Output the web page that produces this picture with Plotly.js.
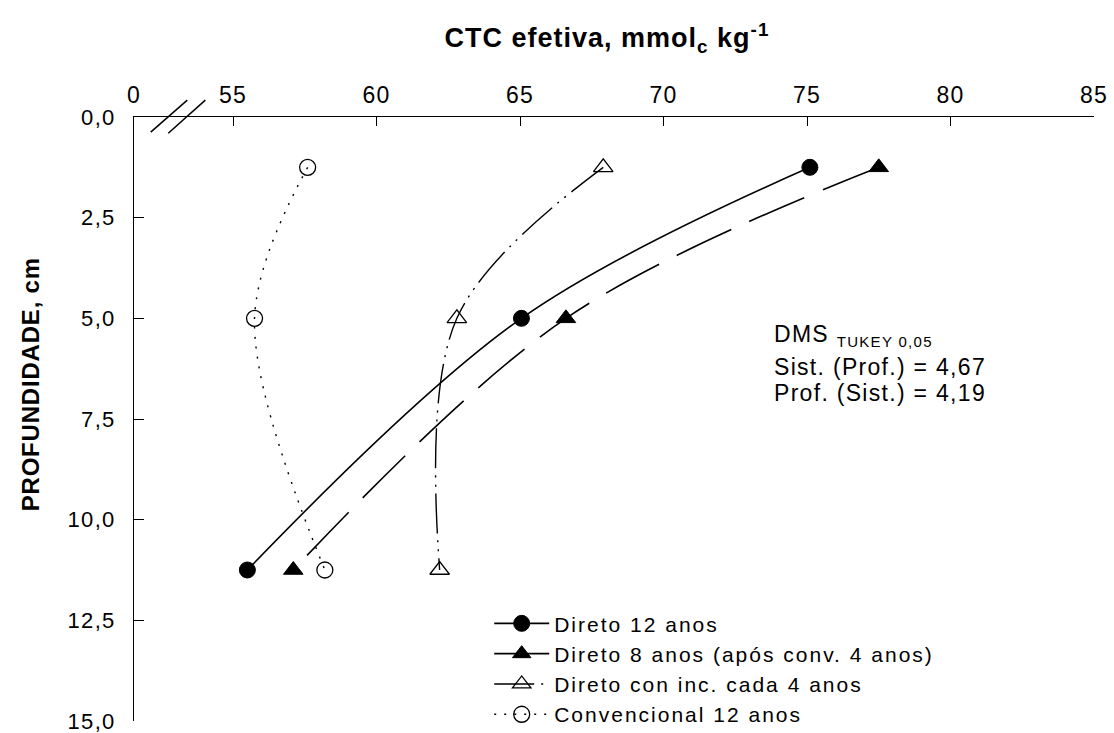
<!DOCTYPE html>
<html>
<head>
<meta charset="utf-8">
<script src="https://cdn.plot.ly/plotly-3.0.1.min.js"></script>
<style>
html,body{margin:0;padding:0;background:#fff;}
#chart{width:1114px;height:733px;}
.xtick text, .ytick text, .annotation[data-index="2"] text, .annotation[data-index="3"] text, .annotation[data-index="4"] text { letter-spacing: 1.3px; }
text.legendtext { letter-spacing: 2px; }
.annotation[data-index="0"] text { letter-spacing: 1px; }
.annotation[data-index="1"] text { letter-spacing: 0.8px; }
</style>
</head>
<body>
<div id="chart"></div>
<script>
// Depths (cm)
const depth = [1.25, 5.0, 11.25];
// CTC efetiva values (mmolc/kg)
const direto12 = [75.1, 65.05, 55.5];
const direto8 = [77.5, 66.6, 57.1];
const diretoInc = [67.9, 62.8, 62.2];
const convencional = [57.6, 55.75, 58.2];

const seriesNames = ["Direto 12 anos", "Direto 8 anos (após conv. 4 anos)", "Direto con inc. cada 4 anos", "Convencional 12 anos"];

// Broken axis: position where "0" is drawn
const xBreakPos = 51.55;
const xTickVals = [xBreakPos, 55, 60, 65, 70, 75, 80, 85];
const xTickText = ["0", "55", "60", "65", "70", "75", "80", "85"];
const yTickVals = [0, 2.5, 5, 7.5, 10, 12.5, 15];
const yTickText = ["0,0", "2,5", "5,0", "7,5", "10,0", "12,5", "15,0"];

const FONT = "Arial, 'Liberation Sans', sans-serif";

const traces = [
  {x: direto12, y: depth, name: seriesNames[0], mode: "lines+markers",
   line: {color: "black", width: 1.6, shape: "spline"},
   marker: {symbol: "circle", size: 16, color: "black", line: {color: "black", width: 1}}},
  {x: direto8, y: depth, name: seriesNames[1], mode: "lines+markers",
   line: {color: "black", width: 1.6, shape: "spline", dash: "60px,20px"},
   marker: {symbol: "triangle-up", size: 17, color: "black", line: {color: "black", width: 1}}},
  {x: diretoInc, y: depth, name: seriesNames[2], mode: "lines+markers",
   line: {color: "black", width: 1.4, shape: "spline", dash: "40px,7px,2px,7px,2px,7px"},
   marker: {symbol: "triangle-up-open", size: 17, color: "black", line: {color: "black", width: 1.3}}},
  {x: convencional, y: depth, name: seriesNames[3], mode: "lines+markers",
   line: {color: "black", width: 1.4, shape: "spline", dash: "2px,8px"},
   marker: {symbol: "circle-open", size: 16, color: "black", line: {color: "black", width: 1.3}}}
];

const layout = {
  width: 1114, height: 733,
  margin: {l: 134, r: 20, t: 117, b: 12, autoexpand: false},
  paper_bgcolor: "white", plot_bgcolor: "white",
  font: {family: FONT, size: 23, color: "black"},
  showlegend: true,
  legend: {x: 0.37, y: 0.195, xanchor: "left", yanchor: "top",
    bgcolor: "rgba(0,0,0,0)", borderwidth: 0, font: {family: FONT, size: 21, color: "black"},
    itemwidth: 55, tracegroupgap: 0},
  xaxis: {side: "top", range: [xBreakPos, 85], tickmode: "array", tickvals: xTickVals, ticktext: xTickText,
    showgrid: false, zeroline: false, showline: true, linecolor: "black", linewidth: 1,
    ticks: "inside", ticklen: 9, tickcolor: "black", tickwidth: 1, ticklabelstandoff: 4,
    ticklabeloverflow: "allow",
    tickfont: {family: FONT, size: 23, color: "black"}},
  yaxis: {range: [15, 0], tickmode: "array", tickvals: yTickVals, ticktext: yTickText,
    showgrid: false, zeroline: false, showline: true, linecolor: "black", linewidth: 1,
    ticks: "inside", ticklen: 10, tickcolor: "black", tickwidth: 1, ticklabelstandoff: 13,
    ticklabeloverflow: "allow",
    tickfont: {family: FONT, size: 22, color: "black"}},
  annotations: [
    {xref: "paper", yref: "paper", x: 0.493, y: 1.131, xanchor: "center", yanchor: "middle",
     text: "<b>CTC efetiva, mmol<sub>c</sub> kg<sup>-1</sup></b>", showarrow: false,
     font: {family: FONT, size: 27, color: "black"}},
    {xref: "paper", yref: "paper", x: -0.108, y: 0.557, xanchor: "center", yanchor: "middle",
     text: "<b>PROFUNDIDADE, cm</b>", textangle: -90, showarrow: false,
     font: {family: FONT, size: 24, color: "black"}},
    {xref: "paper", yref: "paper", x: 0.665, y: 0.638, xanchor: "left", yanchor: "middle", align: "left",
     text: "DMS <sub><span style=\"font-size:15px\">TUKEY 0,05</span></sub>", showarrow: false,
     font: {family: FONT, size: 23, color: "black"}},
    {xref: "paper", yref: "paper", x: 0.665, y: 0.586, xanchor: "left", yanchor: "middle", align: "left",
     text: "Sist. (Prof.) = 4,67", showarrow: false,
     font: {family: FONT, size: 23, color: "black"}},
    {xref: "paper", yref: "paper", x: 0.665, y: 0.543, xanchor: "left", yanchor: "middle", align: "left",
     text: "Prof. (Sist.) = 4,19", showarrow: false,
     font: {family: FONT, size: 23, color: "black"}}
  ],
  shapes: [
    {type: "line", xref: "paper", yref: "paper", x0: 0.0174, y0: 0.975, x1: 0.0555, y1: 1.028, line: {color: "black", width: 1.5}},
    {type: "line", xref: "paper", yref: "paper", x0: 0.0357, y0: 0.973, x1: 0.0743, y1: 1.028, line: {color: "black", width: 1.5}}
  ]
};

Plotly.newPlot("chart", traces, layout, {displayModeBar: false, staticPlot: true});
</script>
</body>
</html>
